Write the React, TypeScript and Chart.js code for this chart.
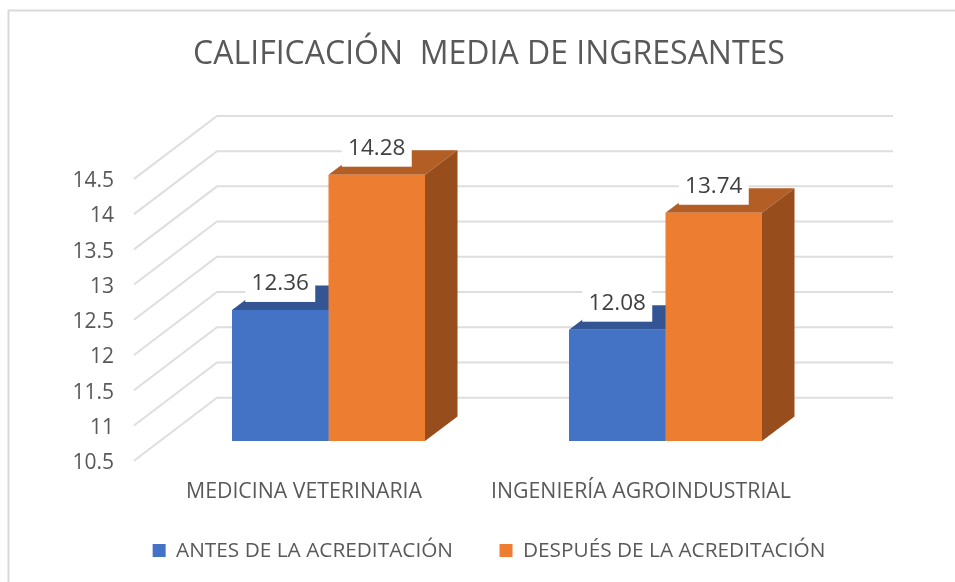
import React, { useEffect, useRef } from "react";
import { Chart, registerables } from "chart.js";

Chart.register(...registerables);

const categories = ["MEDICINA VETERINARIA", "INGENIERÍA AGROINDUSTRIAL"];
const antes = [12.36, 12.08];
const despues = [14.28, 13.74];
const seriesNames = ["ANTES DE LA ACREDITACIÓN", "DESPUÉS DE LA ACREDITACIÓN"];
const titleText = "CALIFICACIÓN  MEDIA DE INGRESANTES";

const FONT = "'Open Sans', sans-serif";
const TEXT = "#595959";
const GRID = "#dedede";
const BLUE = "#4472C4";
const ORANGE = "#ED7D31";
const tops = ["#335593", "#B25E25"];
const sides = ["#2A4A82", "#974E1C"];
const BAR_DX = 32.5;
const BAR_DY = 24.4;
const WALL_DX = 83;
const WALL_DY = 63;
const TICK_SHIFT = 19.7;
const LABEL_SHIFT = 22;

const poly = (ctx: CanvasRenderingContext2D, pts: number[][], fill: string) => {
  ctx.fillStyle = fill;
  ctx.beginPath();
  pts.forEach((p, i) => (i ? ctx.lineTo(p[0], p[1]) : ctx.moveTo(p[0], p[1])));
  ctx.closePath();
  ctx.fill();
};

const threeD = {
  id: "threeD",
  afterLayout(chart: any) {
    // the category labels sit lower than the band kept for them: keep them from being clipped
    chart.scales.x.bottom = chart.height;
  },
  beforeDatasetsDraw(chart: any) {
    const ctx: CanvasRenderingContext2D = chart.ctx;
    const yScale = chart.scales.y;
    const area = chart.chartArea;
    ctx.save();
    // frame of the picture
    ctx.strokeStyle = "#d9d9d9";
    ctx.lineWidth = 2;
    ctx.beginPath();
    ctx.moveTo(8.5, 582);
    ctx.lineTo(8.5, 10.5);
    ctx.lineTo(955, 10.5);
    ctx.stroke();
    // walls
    const frontX = area.left - 26;
    const backX = frontX + WALL_DX;
    const endX = area.right + 59;
    ctx.strokeStyle = GRID;
    ctx.lineWidth = 2;
    yScale.ticks.forEach((t: any) => {
      const fy = yScale.getPixelForValue(t.value) + TICK_SHIFT;
      ctx.beginPath();
      ctx.moveTo(frontX, fy);
      ctx.lineTo(backX, fy - WALL_DY);
      ctx.lineTo(endX, fy - WALL_DY);
      ctx.stroke();
    });
    // depth faces of the bars
    [0, 1].forEach((ds) => {
      chart.getDatasetMeta(ds).data.forEach((b: any) => {
        const l = b.x - b.width / 2;
        const r = b.x + b.width / 2;
        poly(ctx, [[l, b.y], [r, b.y], [r + BAR_DX, b.y - BAR_DY], [l + BAR_DX, b.y - BAR_DY]], tops[ds]);
        poly(ctx, [[r, b.y], [r + BAR_DX, b.y - BAR_DY], [r + BAR_DX, b.base - BAR_DY], [r, b.base]], sides[ds]);
      });
    });
    ctx.restore();
  },
  afterDatasetsDraw(chart: any) {
    const ctx: CanvasRenderingContext2D = chart.ctx;
    ctx.save();
    ctx.font = `22.5px ${FONT}`;
    ctx.textAlign = "center";
    ctx.textBaseline = "middle";
    [0, 1].forEach((ds) => {
      const meta = chart.getDatasetMeta(ds);
      meta.data.forEach((b: any, i: number) => {
        const v = chart.data.datasets[ds].data[i];
        ctx.fillStyle = "#ffffff";
        ctx.fillRect(b.x - 35, b.y - 44, 70, 36);
        ctx.fillStyle = "#404040";
        ctx.fillText(Number(v).toFixed(2), b.x, b.y - 26);
      });
    });
    ctx.restore();
  },
};

export default function App() {
  const ref = useRef<HTMLCanvasElement>(null);
  useEffect(() => {
    const chart = new Chart(ref.current as HTMLCanvasElement, {
      type: "bar",
      data: {
        labels: categories,
        datasets: [
          { label: seriesNames[0], data: antes, backgroundColor: BLUE, base: 10.5 },
          { label: seriesNames[1], data: despues, backgroundColor: ORANGE, base: 10.5 },
        ],
      },
      plugins: [threeD],
      options: {
        responsive: false,
        animation: false,
        layout: { padding: { left: 23, right: 0, top: 0, bottom: 11 } },
        datasets: { bar: { barPercentage: 1, categoryPercentage: 0.5727 } },
        plugins: {
          tooltip: { enabled: false },
          title: {
            display: true,
            text: titleText,
            color: TEXT,
            font: { family: FONT, size: 32, weight: "normal" },
            padding: { top: 36, bottom: 84.8 },
          },
          legend: {
            display: true,
            position: "bottom",
            labels: {
              color: TEXT,
              font: { family: FONT, size: 20.8 },
              boxWidth: 13,
              boxHeight: 13,
              padding: 46.5,
            },
          },
        },
        scales: {
          x: {
            grid: { display: false, drawTicks: false },
            border: { display: false },
            ticks: {
              color: TEXT,
              font: { family: FONT, size: 21.3 },
              padding: 38,
              labelOffset: -24.5,
              maxRotation: 0,
              autoSkip: false,
            },
            afterFit: (s: any) => {
              s.height = 52.7;
            },
          },
          y: {
            min: 10.5,
            max: 14.5,
            grid: { display: false, drawTicks: false },
            border: { display: false },
            ticks: {
              stepSize: 0.5,
              color: TEXT,
              font: { family: FONT, size: 21 },
              padding: 46,
              labelOffset: LABEL_SHIFT,
              callback: (v: any) => String(v),
            },
            afterFit: (s: any) => {
              s.width = 137;
            },
          },
          rightGap: {
            position: "right",
            display: true,
            grid: { display: false, drawTicks: false },
            border: { display: false },
            ticks: { display: false },
            afterFit: (s: any) => {
              s.width = 121;
            },
          },
        },
      },
    } as any);
    return () => chart.destroy();
  }, []);
  return (
    <div style={{ position: "absolute", left: 0, top: 0, width: 955, height: 582, background: "#fff" }}>
      <canvas ref={ref} width={955} height={582} style={{ display: "block" }} />
    </div>
  );
}
